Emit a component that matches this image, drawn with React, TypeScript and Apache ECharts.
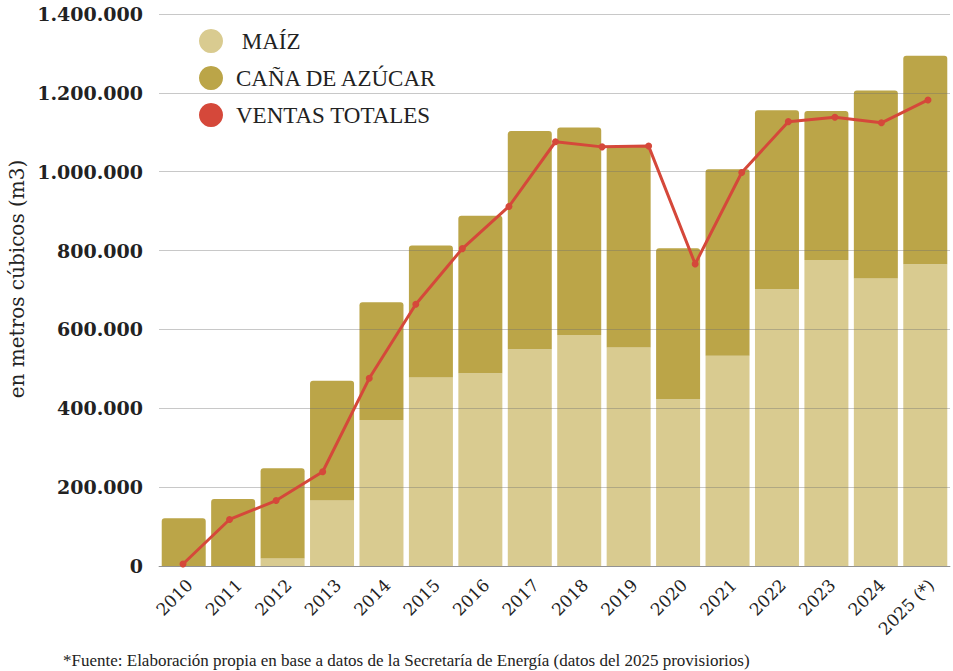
import React, { useEffect, useRef } from "react";
import * as echarts from "echarts";

const categories = ["2010", "2011", "2012", "2013", "2014", "2015", "2016", "2017", "2018", "2019", "2020", "2021", "2022", "2023", "2024", "2025 (*)"];
const maiz = [0, 0, 19000, 166000, 370000, 478000, 489000, 550000, 586000, 554000, 423000, 533000, 702000, 776000, 729000, 765000];
const cana = [121000, 170000, 229000, 304000, 299000, 335000, 399000, 553000, 526000, 509000, 383000, 473000, 454000, 378000, 477000, 529000];
const ventasPuntos = ["p1", "p2", "p3", "p4", "p5", "p6", "p7", "p8", "p9", "p10", "p11", "p12", "p13", "p14", "p15", "p16", "p17"];
const ventas = [5000, 118000, 166000, 239000, 476000, 664000, 805000, 912000, 1076000, 1063000, 1065000, 766000, 998000, 1127000, 1138000, 1124000, 1182000];
const yTicks = { min: 0, max: 1400000, interval: 200000 };

const fmt = (v: number) => String(v).replace(/\B(?=(\d{3})+(?!\d))/g, ".");

export default function App() {
  const ref = useRef<HTMLDivElement>(null);
  useEffect(() => {
    if (!ref.current) return;
    const chart = echarts.init(ref.current, undefined, { renderer: "svg" });
    const serif = "DejaVu Serif";
    chart.setOption({
      animation: false,
      backgroundColor: "#ffffff",
      legend: {
        orient: "vertical",
        left: 199,
        top: 29,
        padding: 0,
        icon: "circle",
        itemWidth: 24,
        itemHeight: 24,
        itemGap: 13,
        data: ["MAÍZ", "CAÑA DE AZÚCAR", "VENTAS TOTALES"],
        formatter: (n: string) => (n === "MAÍZ" ? " " + n : n),
        textStyle: { fontFamily: "Liberation Serif", fontSize: 23, color: "#222", padding: [0, 0, 0, 8] },
      },
      grid: [
        { left: 159, right: 3, top: 14, bottom: 105 },
        { left: 183, right: 25, top: 14, bottom: 105 },
      ],
      xAxis: [
        {
          type: "category",
          gridIndex: 0,
          data: categories,
          axisTick: { show: false },
          axisLine: { lineStyle: { color: "#a8a8a8", width: 1 } },
          axisLabel: {
            rotate: 45,
            margin: 10,
            verticalAlign: "top",
            fontFamily: serif,
            fontSize: 17,
            color: "#222",
            interval: 0,
          },
        },
        {
          type: "category",
          gridIndex: 1,
          data: ventasPuntos,
          boundaryGap: false,
          show: false,
        },
      ],
      yAxis: [
        {
          type: "value",
          gridIndex: 0,
          ...yTicks,
          z: 3,
          axisLine: { show: false },
          axisTick: { show: false },
          splitLine: { lineStyle: { color: "rgba(110,110,110,0.38)", width: 1 } },
          axisLabel: { margin: 16, fontFamily: serif, fontWeight: "bold", fontSize: 19, color: "#222", formatter: fmt },
        },
        { type: "value", gridIndex: 1, ...yTicks, show: false, splitLine: { show: false } },
      ],
      series: [
        {
          name: "MAÍZ",
          type: "bar",
          stack: "total",
          xAxisIndex: 0,
          yAxisIndex: 0,
          barWidth: 44,
          data: maiz,
          itemStyle: { color: "#D9CB90" },
        },
        {
          name: "CAÑA DE AZÚCAR",
          type: "bar",
          stack: "total",
          xAxisIndex: 0,
          yAxisIndex: 0,
          barWidth: 44,
          data: cana,
          itemStyle: { color: "#BBA548", borderRadius: [3, 3, 0, 0] },
        },
        {
          name: "VENTAS TOTALES",
          type: "line",
          xAxisIndex: 1,
          yAxisIndex: 1,
          z: 5,
          data: ventas,
          symbol: "circle",
          symbolSize: 7,
          lineStyle: { color: "#D5483A", width: 3 },
          itemStyle: { color: "#D5483A" },
        },
      ],
      graphic: [
        {
          type: "text",
          x: 17,
          y: 279,
          rotation: Math.PI / 2,
          style: {
            text: "en metros cúbicos (m3)",
            fontFamily: serif,
            fontSize: 20,
            fill: "#222",
            textAlign: "center",
            textVerticalAlign: "middle",
          },
        },
        {
          type: "text",
          x: 63,
          y: 660,
          style: {
            text: "*Fuente: Elaboración propia en base a datos de la Secretaría de Energía (datos del 2025 provisiorios)",
            fontFamily: "Liberation Serif",
            fontSize: 17,
            fill: "#222",
            textAlign: "left",
            textVerticalAlign: "middle",
          },
        },
      ],
    });
    return () => chart.dispose();
  }, []);
  return <div ref={ref} style={{ position: "absolute", left: 0, top: 0, width: 953, height: 671 }} />;
}
